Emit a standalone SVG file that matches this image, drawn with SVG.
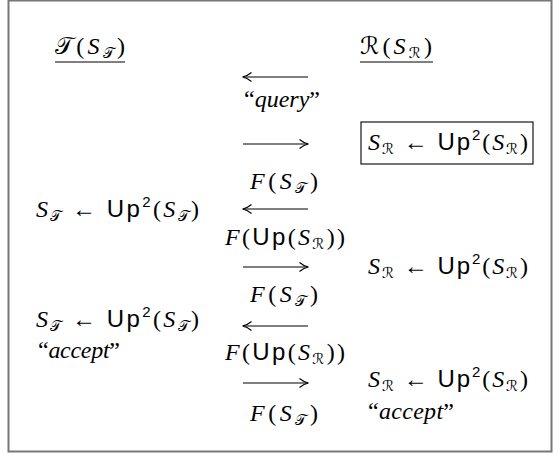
<svg xmlns="http://www.w3.org/2000/svg" width="560" height="460" viewBox="0 0 560 460">
<style>
.m{font-family:"Liberation Serif",serif;font-style:italic;font-size:24px;fill:#000}
.r{font-style:normal}
.sf{font-family:"Liberation Sans",sans-serif;font-style:normal}
.sub{font-family:"DejaVu Serif","DejaVu Sans",serif;font-style:normal;font-size:15px}
.cal{font-family:"DejaVu Serif","DejaVu Sans",serif;font-style:normal}
.sup{font-family:"Liberation Sans",sans-serif;font-style:normal;font-size:15px}
.arr{stroke:#000;stroke-width:1.2;fill:none;marker-end:url(#ah)}
.ul{stroke:#000;stroke-width:1.1}
</style>
<defs>
<marker id="ah" markerWidth="12" markerHeight="12" refX="10" refY="6" orient="auto" markerUnits="userSpaceOnUse">
<path d="M1.5,1.5 Q6,5.3 10.5,6 Q6,6.7 1.5,10.5" fill="none" stroke="#000" stroke-width="1.1"/>
</marker>
</defs>
<rect x="8.5" y="0.5" width="543" height="451" fill="#fff" stroke="#777" stroke-width="2"/>

<g id="hdrT">
<text class="m" x="55" y="54" textLength="70" lengthAdjust="spacing"><tspan class="cal">𝒯</tspan><tspan class="r">(</tspan>S<tspan class="sub" dy="4">𝒯</tspan><tspan class="r" dy="-4">)</tspan></text>
<line class="ul" x1="55" y1="62" x2="125" y2="62"/>
</g>
<g id="hdrR">
<text class="m" x="360" y="54" textLength="72" lengthAdjust="spacing"><tspan class="cal">ℛ</tspan><tspan class="r">(</tspan>S<tspan class="sub" dy="4">ℛ</tspan><tspan class="r" dy="-4">)</tspan></text>
<line class="ul" x1="360" y1="62" x2="433" y2="62"/>
</g>

<g id="connectors">
<line class="arr" x1="308" y1="77" x2="243" y2="77"/>
<line class="arr" x1="243" y1="144" x2="308" y2="144"/>
<line class="arr" x1="308" y1="209" x2="243" y2="209"/>
<line class="arr" x1="243" y1="267" x2="308" y2="267"/>
<line class="arr" x1="308" y1="326" x2="243" y2="326"/>
<line class="arr" x1="243" y1="383" x2="308" y2="383"/>
</g>

<g id="lblQuery"><text class="m" x="244" y="107" textLength="76" lengthAdjust="spacing"><tspan class="r">“</tspan>query<tspan class="r">”</tspan></text></g>

<g id="boxR1">
<rect x="361" y="122" width="172" height="42" fill="none" stroke="#000" stroke-width="1.1"/>
<text class="m" x="368" y="150" textLength="160" lengthAdjust="spacing">S<tspan class="sub" dy="4">ℛ</tspan><tspan class="r" dy="-4"> ← </tspan><tspan class="sf">Up</tspan><tspan class="sup" dy="-10">2</tspan><tspan class="r" dy="10">(</tspan>S<tspan class="sub" dy="4">ℛ</tspan><tspan class="r" dy="-4">)</tspan></text>
</g>

<g id="lblF1"><text class="m" x="250" y="189" textLength="68" lengthAdjust="spacing">F<tspan class="r">(</tspan>S<tspan class="sub" dy="4">𝒯</tspan><tspan class="r" dy="-4">)</tspan></text></g>

<g id="T1"><text class="m" x="36" y="217" textLength="163" lengthAdjust="spacing">S<tspan class="sub" dy="4">𝒯</tspan><tspan class="r" dy="-4"> ← </tspan><tspan class="sf">Up</tspan><tspan class="sup" dy="-10">2</tspan><tspan class="r" dy="10">(</tspan>S<tspan class="sub" dy="4">𝒯</tspan><tspan class="r" dy="-4">)</tspan></text></g>

<g id="lblFU1"><text class="m" x="225" y="245" textLength="120" lengthAdjust="spacing">F<tspan class="r">(</tspan><tspan class="sf">Up</tspan><tspan class="r">(</tspan>S<tspan class="sub" dy="4">ℛ</tspan><tspan class="r" dy="-4">))</tspan></text></g>

<g id="R2"><text class="m" x="368" y="274" textLength="160" lengthAdjust="spacing">S<tspan class="sub" dy="4">ℛ</tspan><tspan class="r" dy="-4"> ← </tspan><tspan class="sf">Up</tspan><tspan class="sup" dy="-10">2</tspan><tspan class="r" dy="10">(</tspan>S<tspan class="sub" dy="4">ℛ</tspan><tspan class="r" dy="-4">)</tspan></text></g>

<g id="lblF2"><text class="m" x="250" y="302" textLength="68" lengthAdjust="spacing">F<tspan class="r">(</tspan>S<tspan class="sub" dy="4">𝒯</tspan><tspan class="r" dy="-4">)</tspan></text></g>

<g id="T2">
<text class="m" x="36" y="327" textLength="163" lengthAdjust="spacing">S<tspan class="sub" dy="4">𝒯</tspan><tspan class="r" dy="-4"> ← </tspan><tspan class="sf">Up</tspan><tspan class="sup" dy="-10">2</tspan><tspan class="r" dy="10">(</tspan>S<tspan class="sub" dy="4">𝒯</tspan><tspan class="r" dy="-4">)</tspan></text>
<text class="m" x="38" y="358" textLength="82" lengthAdjust="spacing"><tspan class="r">“</tspan>accept<tspan class="r">”</tspan></text>
</g>

<g id="lblFU2"><text class="m" x="225" y="360" textLength="120" lengthAdjust="spacing">F<tspan class="r">(</tspan><tspan class="sf">Up</tspan><tspan class="r">(</tspan>S<tspan class="sub" dy="4">ℛ</tspan><tspan class="r" dy="-4">))</tspan></text></g>

<g id="R3">
<text class="m" x="368" y="387" textLength="160" lengthAdjust="spacing">S<tspan class="sub" dy="4">ℛ</tspan><tspan class="r" dy="-4"> ← </tspan><tspan class="sf">Up</tspan><tspan class="sup" dy="-10">2</tspan><tspan class="r" dy="10">(</tspan>S<tspan class="sub" dy="4">ℛ</tspan><tspan class="r" dy="-4">)</tspan></text>
<text class="m" x="368" y="419" textLength="86" lengthAdjust="spacing"><tspan class="r">“</tspan>accept<tspan class="r">”</tspan></text>
</g>

<g id="lblF3"><text class="m" x="250" y="421" textLength="68" lengthAdjust="spacing">F<tspan class="r">(</tspan>S<tspan class="sub" dy="4">𝒯</tspan><tspan class="r" dy="-4">)</tspan></text></g>
</svg>
